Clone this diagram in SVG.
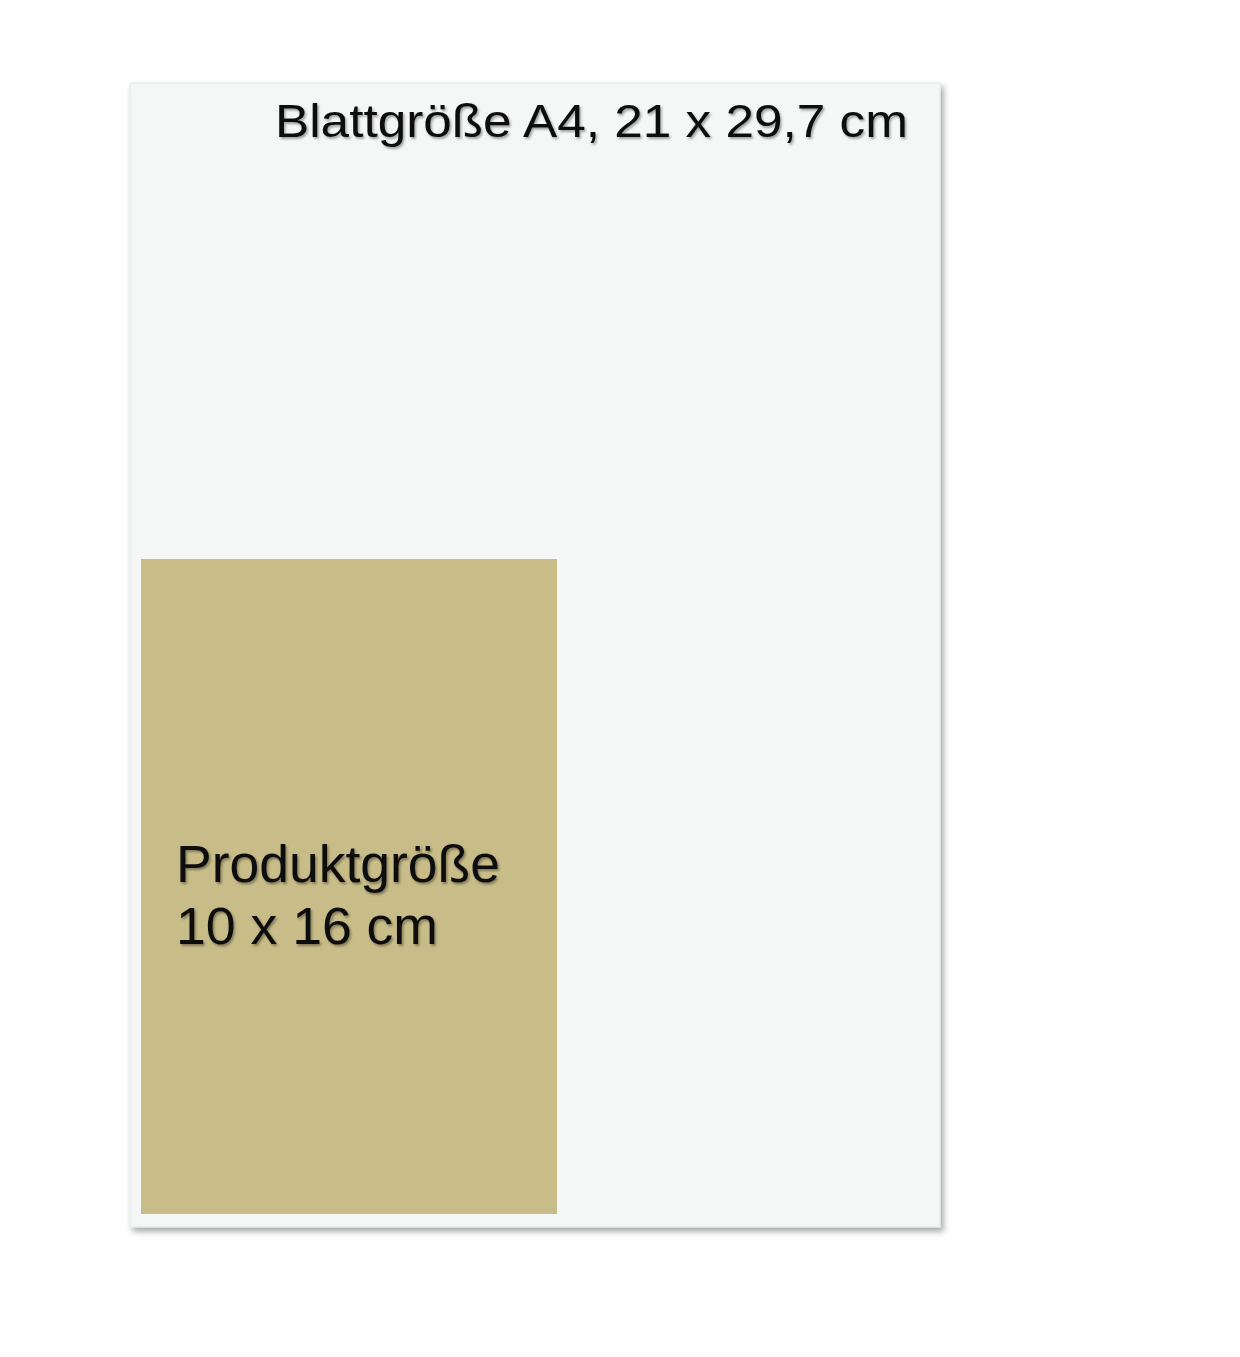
<svg xmlns="http://www.w3.org/2000/svg" width="1240" height="1357" viewBox="0 0 1240 1357">
<defs>
<filter id="pageShadow" x="-5%" y="-5%" width="112%" height="112%">
<feDropShadow dx="3" dy="4" stdDeviation="3" flood-color="#000" flood-opacity="0.35"/>
</filter>
<filter id="txtShadow" x="-5%" y="-20%" width="110%" height="150%">
<feDropShadow dx="1.5" dy="2" stdDeviation="1.2" flood-color="#000" flood-opacity="0.35"/>
</filter>
</defs>
<style>
.lbl{font-family:"Liberation Sans",Arial,sans-serif;fill:#111;filter:url(#txtShadow)}
</style>
<rect width="1240" height="1357" fill="#ffffff"/>
<g id="sheet">
<rect x="130" y="83" width="810" height="1144" fill="#f5f6f6" stroke="#e4e6e6" stroke-width="1" filter="url(#pageShadow)"/>
<text class="lbl" x="908" y="137" font-size="47" text-anchor="end" textLength="633" lengthAdjust="spacingAndGlyphs">Blattgröße A4, 21 x 29,7 cm</text>
</g>
<g id="product">
<rect x="141" y="559" width="416" height="655" fill="#c8bc88"/>
<text class="lbl" x="176" y="882" font-size="51" textLength="324" lengthAdjust="spacingAndGlyphs">Produktgröße</text>
<text class="lbl" x="176" y="944" font-size="51" textLength="262" lengthAdjust="spacingAndGlyphs">10 x 16 cm</text>
</g>
<g id="connectors"/>
</svg>
